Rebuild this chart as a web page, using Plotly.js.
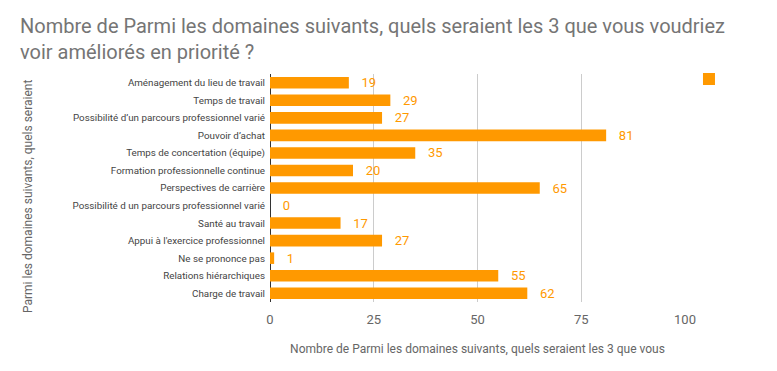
<!DOCTYPE html>
<html><head><meta charset="utf-8">
<script src="https://cdn.plot.ly/plotly-3.0.1.min.js"></script>
<style>html,body{margin:0;padding:0;background:#fff}#c{width:777px;height:371px}</style>
</head><body><div id="c"></div>
<script>
const categories = [
  "Aménagement du lieu de travail",
  "Temps de travail",
  "Possibilité d’un parcours professionnel varié",
  "Pouvoir d’achat",
  "Temps de concertation (équipe)",
  "Formation professionnelle continue",
  "Perspectives de carrière",
  "Possibilité d un parcours professionnel varié",
  "Santé au travail",
  "Appui à l'exercice professionnel",
  "Ne se prononce pas",
  "Relations hiérarchiques",
  "Charge de travail"
];
const values = [19, 29, 27, 81, 35, 20, 65, 0, 17, 27, 1, 55, 62];
const xTicks = [0, 25, 50, 75, 100];
const yTitle = 'Parmi les domaines suivants, quels seraient';

const trace = {
  type: 'bar', orientation: 'h',
  x: values, y: categories,
  name: ' ',
  marker: {color: '#ff9900'},
  width: 0.66,
  texttemplate: '   %{x}',
  textposition: 'outside',
  constraintext: 'none',
  cliponaxis: false,
  textfont: {family: 'Roboto', size: 13, color: '#ff9900'},
  showlegend: true
};
const layout = {
  width: 777, height: 371,
  margin: {l: 270, r: 92, t: 74, b: 69},
  paper_bgcolor: '#fff', plot_bgcolor: '#fff',
  font: {family: 'Roboto', color: '#444'},
  title: {text: 'Nombre de Parmi les domaines suivants, quels seraient les 3 que vous voudriez<br>voir améliorés en priorité ?',
    x: 20/777, xref: 'container', xanchor: 'left', yref: 'container', y: 1 - 33/371, yanchor: 'top',
    font: {family: 'Roboto', size: 20, color: '#757575'}},
  xaxis: {range: [0, 100], tickvals: xTicks, ticktext: xTicks.map(String),
    showgrid: true, gridcolor: '#cccccc', zeroline: true, zerolinecolor: '#333', zerolinewidth: 1,
    ticks: 'outside', ticklen: 4, tickcolor: 'rgba(0,0,0,0)', ticklabelstandoff: 1,
    tickfont: {family: 'Roboto', size: 13, color: '#666'},
    title: {text: 'Nombre de Parmi les domaines suivants, quels seraient les 3 que vous', standoff: 19,
      font: {family: 'Roboto', size: 12, color: '#666'}},
    fixedrange: true},
  yaxis: {autorange: 'reversed', type: 'category', showgrid: false, ticks: '',
    ticklabelstandoff: 4,
    tickfont: {family: 'Roboto', size: 9.8, color: '#444'}},
  annotations: [{text: yTitle, textangle: -90, xref: 'paper', yref: 'paper',
    x: (28 - 270) / 415, y: (302 - 197) / 228, xanchor: 'center', yanchor: 'middle',
    showarrow: false, font: {family: 'Roboto', size: 12, color: '#666'}}],
  showlegend: true,
  legend: {x: 1.0096, xanchor: 'left', y: 1.042, yanchor: 'top', font: {size: 12}}
};
Plotly.newPlot('c', [trace], layout, {displayModeBar: false, staticPlot: true});
</script></body></html>
